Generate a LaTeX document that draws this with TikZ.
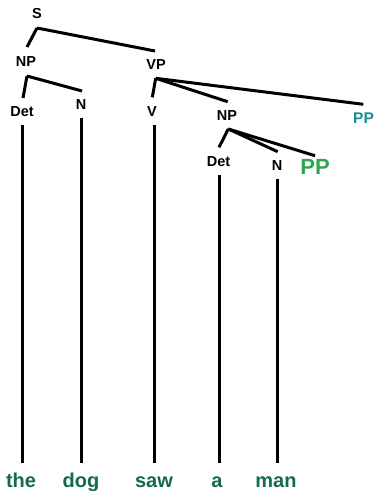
\documentclass[tikz,border=0pt]{standalone}
\usepackage{fontspec}
\setmainfont{Liberation Sans}
\definecolor{wordgreen}{HTML}{136B48}
\definecolor{ppgreen}{HTML}{2EA84F}
\definecolor{ppteal}{HTML}{178F8F}
\begin{document}
\begin{tikzpicture}[x=1pt,y=-1pt,
  lab/.style={font=\bfseries\fontsize{14.5}{14.5}\selectfont, inner sep=0, anchor=base},
  bigpp/.style={font=\bfseries\fontsize{22}{22}\selectfont, inner sep=0, anchor=base, text=ppgreen},
  tealpp/.style={font=\bfseries\fontsize{15.5}{15.5}\selectfont, inner sep=0, anchor=base, text=ppteal},
  word/.style={font=\bfseries\fontsize{20}{20}\selectfont, inner sep=0, anchor=base, text=wordgreen},
  edge/.style={line width=3pt}]
\useasboundingbox (0,0) rectangle (378,491);
% labels
\node[lab] (S) at (37,18.3) {S};
\node[lab] (NPa) at (26,66.7) {NP};
\node[lab] (VP) at (156,69.3) {VP};
\node[lab] (Deta) at (22,116) {Det};
\node[lab] (Na) at (81,109.3) {N};
\node[lab] (V) at (152,116.7) {V};
\node[lab] (NPb) at (227,120) {NP};
\node[tealpp] (PPa) at (363.5,123.3) {PP};
\node[lab] (Detb) at (218.5,166) {Det};
\node[lab] (Nb) at (277,170) {N};
\node[bigpp] (PPb) at (315,174.3) {PP};
% words
\node[word] (the) at (21,487) {the};
\node[word] (dog) at (81,487) {dog};
\node[word] (saw) at (154,487) {saw};
\node[word] (a) at (217,487) {a};
\node[word] (man) at (276,487) {man};
% branch points
\coordinate (S-b) at (37,28);
\coordinate (NPa-t) at (27,47);
\coordinate (VP-t) at (155,51);
\coordinate (NPa-b) at (27,76);
\coordinate (Deta-t) at (23,98);
\coordinate (Na-t) at (82,91);
\coordinate (VP-b) at (155.7,78.3);
\coordinate (V-t) at (152.3,97.3);
\coordinate (NPb-t) at (227.7,101.7);
\coordinate (PPa-t) at (363.3,104.3);
\coordinate (NPb-b) at (228.3,129);
\coordinate (Detb-t) at (219,147.3);
\coordinate (Nb-t) at (277.7,151.7);
\coordinate (PPb-t) at (315,155.7);
\coordinate (Deta-b) at (22.3,125);
\coordinate (Na-b) at (81,118);
\coordinate (V-b) at (154,125);
\coordinate (Detb-b) at (219,175);
\coordinate (Nb-b) at (277.7,178.5);
\coordinate (the-t) at (22.3,463.3);
\coordinate (dog-t) at (81,463.3);
\coordinate (saw-t) at (154,463.3);
\coordinate (a-t) at (219,463.3);
\coordinate (man-t) at (277.7,463.3);
% edges
\draw[edge] (S-b) -- (NPa-t);
\draw[edge] (S-b) -- (VP-t);
\draw[edge] (NPa-b) -- (Deta-t);
\draw[edge] (NPa-b) -- (Na-t);
\draw[edge] (VP-b) -- (V-t);
\draw[edge] (VP-b) -- (NPb-t);
\draw[edge] (VP-b) -- (PPa-t);
\draw[edge] (NPb-b) -- (Detb-t);
\draw[edge] (NPb-b) -- (Nb-t);
\draw[edge] (NPb-b) -- (PPb-t);
\draw[edge] (Deta-b) -- (the-t);
\draw[edge] (Na-b) -- (dog-t);
\draw[edge] (V-b) -- (saw-t);
\draw[edge] (Detb-b) -- (a-t);
\draw[edge] (Nb-b) -- (man-t);
\end{tikzpicture}
\end{document}
